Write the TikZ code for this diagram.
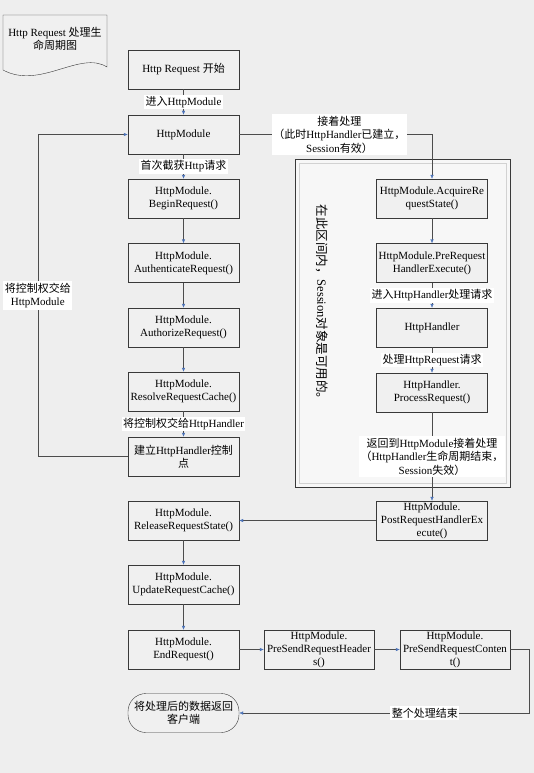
\documentclass[tikz,border=0pt]{standalone}
\usepackage{fontspec}
\setmainfont{Liberation Serif}
\newfontfamily\cjk{Noto Sans CJK SC}
\usetikzlibrary{arrows.meta}
\usetikzlibrary{positioning}
\definecolor{bgray}{rgb}{0.935, 0.935, 0.935}
\definecolor{boxgray}{rgb}{0.94, 0.94, 0.94}
\definecolor{mblue}{rgb}{0.3, 0.45, 0.72}
\tikzset{proc/.style = {draw=gray!45!black, fill=boxgray, minimum width=111,
                        minimum height=39, inner sep=1, align=center,
                        font=\fontsize{11}{13}\selectfont}}
\tikzset{lbl/.style = {fill=white, inner sep=1.5, align=center,
                       font=\fontsize{11}{13.5}\selectfont}}
\tikzset{flow/.style = {draw=gray!60!black, -{Latex[length=4, width=3.5, color=mblue]}}}

\begin{document}
\begin{tikzpicture}[x=1pt, y=-1pt]
      \useasboundingbox (0, 0) rectangle (534, 773);
      \fill [bgray] (0, 0) rectangle (534, 773);
      % title sheet
      \draw [gray!45!black, fill=boxgray] (3, 15) -- (107, 15) -- (107, 67)
            .. controls (80, 50) and (40, 90) .. (3, 70) -- cycle;
      \node [align=center, font=\fontsize{11}{13}\selectfont] (title) at (55, 39)
            {Http Request {\cjk 处理生}\\{\cjk 命周期图}};
      % session area
      \draw [gray!45!black, fill=gray!6] (295, 159) rectangle (510, 487);
      \draw [gray!35] (299, 163) rectangle (506, 483);
      \node [rotate=-90, font=\fontsize{12.5}{14}\selectfont] (note) at (322, 305)
            {{\cjk 在此区间内，}Session{\cjk 对象是可用的。}};
      % main column
      \node [proc] (start)   at (183.5, 69.5)  {Http Request {\cjk 开始}};
      \node [proc] (hm)      at (183.5, 134.5) {HttpModule};
      \node [proc] (begin)   at (183.5, 198.5) {HttpModule.\\BeginRequest()};
      \node [proc] (authn)   at (183.5, 263)   {HttpModule.\\AuthenticateRequest()};
      \node [proc] (authz)   at (183.5, 327.5) {HttpModule.\\AuthorizeRequest()};
      \node [proc] (resolve) at (183.5, 391.5) {HttpModule.\\ResolveRequestCache()};
      \node [proc] (build)   at (183.5, 456.5) {{\cjk 建立}HttpHandler{\cjk 控制}\\{\cjk 点}};
      \node [proc] (release) at (183.5, 520.5) {HttpModule.\\ReleaseRequestState()};
      \node [proc] (update)  at (183.5, 584.5) {HttpModule.\\UpdateRequestCache()};
      \node [proc] (finish)  at (183.5, 649.5) {HttpModule.\\EndRequest()};
      \node [proc, rounded corners=18] (client) at (183.5, 713)
            {{\cjk 将处理后的数据返回}\\{\cjk 客户端}};
      % handler column
      \node [proc] (acquire) at (432, 198.5) {HttpModule.AcquireRe\\questState()};
      \node [proc] (prereq)  at (432, 263)   {HttpModule.PreRequest\\HandlerExecute()};
      \node [proc] (handler) at (432, 327.5) {HttpHandler};
      \node [proc] (process) at (432, 392.5) {HttpHandler.\\ProcessRequest()};
      \node [proc] (post)    at (432, 520.5) {HttpModule.\\PostRequestHandlerEx\\ecute()};
      \node [proc, minimum width=110] (headers) at (319, 649.5) {HttpModule.\\PreSendRequestHeader\\s()};
      \node [proc, minimum width=110] (content) at (455, 649.5) {HttpModule.\\PreSendRequestConten\\t()};
      % connectors
      \draw [flow] (start) -- node [lbl] {{\cjk 进入}HttpModule} (hm);
      \draw [flow] (hm) -- node [lbl] {{\cjk 首次截获}Http{\cjk 请求}} (begin);
      \draw [flow] (begin) -- (authn);
      \draw [flow] (authn) -- (authz);
      \draw [flow] (authz) -- (resolve);
      \draw [flow] (resolve) -- node [lbl] {{\cjk 将控制权交给}HttpHandler} (build);
      \draw [flow] (build.west) -- ++(-90, 0) |- node [lbl, pos=0.25]
            {{\cjk 将控制权交给}\\HttpModule} (hm.west);
      \draw [flow] (hm.east) -| node [lbl, pos=0.26]
            {{\cjk 接着处理}\\{\cjk （此时}HttpHandler{\cjk 已建立，}\\Session{\cjk 有效）}} (acquire.north);
      \draw [flow] (acquire) -- (prereq);
      \draw [flow] (prereq) -- node [lbl] {{\cjk 进入}HttpHandler{\cjk 处理请求}} (handler);
      \draw [flow] (handler) -- node [lbl] {{\cjk 处理}HttpRequest{\cjk 请求}} (process);
      \draw [flow] (process) -- node [lbl]
            {{\cjk 返回到}HttpModule{\cjk 接着处理}\\{\cjk （}HttpHandler{\cjk 生命周期结束，}\\Session{\cjk 失效）}} (post);
      \draw [flow] (post) -- (release);
      \draw [flow] (release) -- (update);
      \draw [flow] (update) -- (finish);
      \draw [flow] (finish) -- (headers);
      \draw [flow] (headers) -- (content);
      \draw [flow] (content.east) -- ++(19, 0) |- node [lbl, pos=0.68]
            {{\cjk 整个处理结束}} (client.east);
    \end{tikzpicture}
\end{document}
